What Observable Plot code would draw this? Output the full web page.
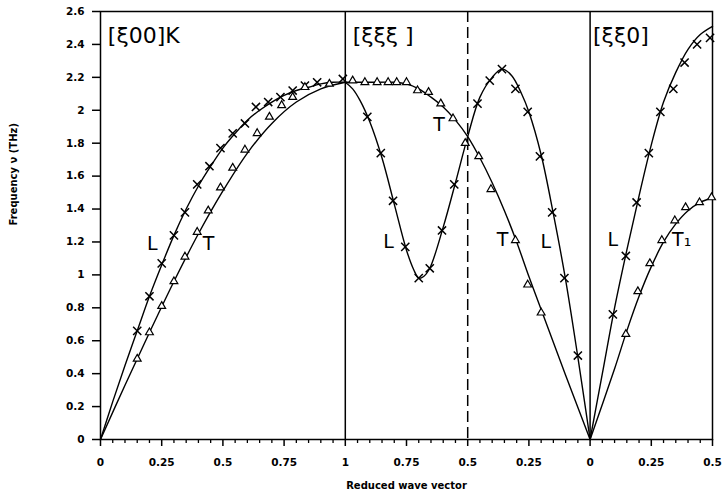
<!DOCTYPE html>
<html><head><meta charset="utf-8">
<script src="https://cdn.jsdelivr.net/npm/d3@7"></script>
<script src="https://cdn.jsdelivr.net/npm/@observablehq/plot@0.6"></script>
<style>body{margin:0;background:#fff}</style>
</head><body><div id="chart"></div>
<script>
// ---- tick labels ----
const xTickLabels = ["0","0.25","0.5","0.75","1","0.75","0.5","0.25","0","0.25","0.5"];
const yTickValues = [0,0.2,0.4,0.6,0.8,1,1.2,1.4,1.6,1.8,2,2.2,2.4,2.6];
const yTickLabels = ["0","0.2","0.4","0.6","0.8","1","1.2","1.4","1.6","1.8","2","2.2","2.4","2.6"];

// ---- [ξ00] (Γ -> H), reduced wave vector ξ, frequency ν (THz) ----
const s1L_points = [[0.15,0.66],[0.2,0.87],[0.25,1.07],[0.3,1.24],[0.345,1.38],[0.395,1.55],[0.445,1.66],[0.49,1.77],[0.54,1.86],[0.59,1.92],[0.635,2.02],[0.685,2.05],[0.735,2.08],[0.785,2.12],[0.835,2.15],[0.885,2.17],[0.99,2.19]];
const s1T_points = [[0.15,0.49],[0.2,0.65],[0.25,0.81],[0.3,0.96],[0.345,1.11],[0.395,1.26],[0.44,1.39],[0.49,1.53],[0.54,1.65],[0.59,1.76],[0.64,1.86],[0.69,1.96],[0.74,2.03],[0.785,2.08],[0.835,2.14],[0.935,2.16]];
const s1L_curve = [[0,0],[0.05,0.23],[0.1,0.45],[0.15,0.66],[0.2,0.87],[0.25,1.06],[0.3,1.24],[0.35,1.40],[0.4,1.54],[0.45,1.66],[0.5,1.77],[0.55,1.86],[0.6,1.94],[0.65,2.00],[0.7,2.05],[0.75,2.09],[0.8,2.12],[0.85,2.14],[0.9,2.16],[0.95,2.17],[1.0,2.17]];
const s1T_curve = [[0,0],[0.1,0.33],[0.2,0.65],[0.3,0.96],[0.4,1.25],[0.5,1.51],[0.6,1.74],[0.7,1.92],[0.8,2.05],[0.9,2.13],[1.0,2.17]];

// ---- [ξξξ] (H -> P -> Γ), ξ runs 1 -> 0 ----
const s2L_points = [[0.91,1.96],[0.855,1.74],[0.805,1.45],[0.755,1.17],[0.70,0.98],[0.655,1.04],[0.605,1.27],[0.555,1.55],[0.46,2.04],[0.41,2.18],[0.36,2.25],[0.305,2.13],[0.255,1.99],[0.205,1.72],[0.155,1.38],[0.105,0.98],[0.05,0.51]];
const s2T_points = [[0.97,2.18],[0.92,2.17],[0.87,2.17],[0.825,2.17],[0.79,2.17],[0.75,2.17],[0.705,2.12],[0.66,2.11],[0.61,2.04],[0.56,1.95],[0.51,1.80],[0.455,1.72],[0.405,1.52],[0.305,1.21],[0.255,0.94],[0.20,0.77]];
const s2L_curve = [[1,2.17],[0.97,2.13],[0.94,2.06],[0.9,1.93],[0.85,1.71],[0.8,1.43],[0.75,1.15],[0.72,1.03],[0.7,0.98],[0.68,0.99],[0.655,1.04],[0.6,1.29],[0.55,1.56],[0.5,1.84],[0.45,2.08],[0.4,2.20],[0.36,2.25],[0.32,2.21],[0.28,2.10],[0.25,1.99],[0.2,1.73],[0.15,1.37],[0.1,0.97],[0.05,0.50],[0,0]];
const s2T_curve = [[1,2.17],[0.9,2.17],[0.8,2.17],[0.75,2.16],[0.7,2.13],[0.65,2.08],[0.6,2.02],[0.55,1.94],[0.5,1.84],[0.45,1.71],[0.4,1.56],[0.35,1.39],[0.3,1.20],[0.25,0.99],[0.2,0.79],[0.1,0.39],[0,0]];

// ---- [ξξ0] (Γ -> N), ξ runs 0 -> 0.5 ----
const s3L_points = [[0.093,0.76],[0.146,1.115],[0.19,1.44],[0.24,1.74],[0.287,1.99],[0.34,2.13],[0.386,2.29],[0.437,2.40],[0.49,2.44]];
const s3T_points = [[0.146,0.64],[0.195,0.90],[0.244,1.07],[0.293,1.21],[0.346,1.33],[0.39,1.41],[0.447,1.44],[0.496,1.47]];
const s3L_curve = [[0,0],[0.05,0.40],[0.1,0.80],[0.15,1.15],[0.2,1.48],[0.25,1.79],[0.3,2.05],[0.35,2.23],[0.4,2.37],[0.45,2.46],[0.5,2.51]];
const s3T_curve = [[0,0],[0.1,0.43],[0.15,0.66],[0.2,0.87],[0.25,1.05],[0.3,1.20],[0.35,1.31],[0.4,1.39],[0.45,1.44],[0.5,1.47]];

// ---- annotations (segment, ξ, ν, text) ----
const panelLabels = [[1,0.03,2.45,"[ξ00]K"],[2,0.97,2.45,"[ξξξ ]"],[3,0.012,2.45,"[ξξ0]"]];
const branchLabels = [[1,0.212,1.19,"L"],[1,0.441,1.19,"T"],[2,0.617,1.91,"T"],[2,0.823,1.20,"L"],[2,0.358,1.21,"T"],[2,0.181,1.20,"L"],[3,0.093,1.21,"L"],[3,0.374,1.21,"T₁"]];

// path coordinate along the plotted x axis
const toT = {1: xi => xi, 2: xi => 2 - xi, 3: xi => 2 + xi};
const rows = (pairs, seg, branch) => pairs.map(([xi, nu]) => ({t: toT[seg](xi), nu, branch}));

const curves = [
  ...rows(s1L_curve,1,"1L"), ...rows(s1T_curve,1,"1T"),
  ...rows(s2L_curve,2,"2L"), ...rows(s2T_curve,2,"2T"),
  ...rows(s3L_curve,3,"3L"), ...rows(s3T_curve,3,"3T")
];
const crosses = [...rows(s1L_points,1,"L"), ...rows(s2L_points,2,"L"), ...rows(s3L_points,3,"L")];
const triangles = [...rows(s1T_points,1,"T"), ...rows(s2T_points,2,"T"), ...rows(s3T_points,3,"T")];
const panels = panelLabels.map(([s,xi,nu,text]) => ({t: toT[s](xi), nu, text}));
const branches = branchLabels.map(([s,xi,nu,text]) => ({t: toT[s](xi), nu, text}));

const majorX = xTickLabels.map((_, i) => i * 0.25);
const xLabelMap = new Map(majorX.map((v, i) => [v, xTickLabels[i]]));
const minorX = d3.range(0, 51).map(i => i * 0.05).filter(v => Math.abs(v / 0.25 - Math.round(v / 0.25)) > 1e-6);
const yLabelMap = new Map(yTickValues.map((v, i) => [v, yTickLabels[i]]));

const plot = Plot.plot({
  width: 724, height: 498,
  marginLeft: 100, marginRight: 12, marginTop: 11, marginBottom: 59,
  x: {domain: [0, 2.5]},
  y: {domain: [0, 2.6]},
  style: {fontFamily: "DejaVu Sans", background: "white", color: "black"},
  marks: [
    Plot.frame({stroke: "black", strokeWidth: 1.5}),
    Plot.ruleX([1, 2], {stroke: "black", strokeWidth: 1.5}),
    Plot.ruleX([1.5], {stroke: "black", strokeWidth: 1.5, strokeDasharray: "11,5"}),
    Plot.axisX({ticks: majorX, tickSize: 7, tickPadding: 12, tickFormat: d => xLabelMap.get(d), label: null, fontWeight: "bold", fontSize: 10.5, letterSpacing: 1, strokeWidth: 1.5}),
    Plot.axisX({ticks: minorX, tickSize: 4, tickFormat: () => "", label: null, strokeWidth: 1.3}),
    Plot.axisY({ticks: yTickValues, tickSize: 8, tickPadding: 8, tickFormat: d => yLabelMap.get(d), label: null, fontWeight: "bold", fontSize: 10.5, letterSpacing: 1, strokeWidth: 1.5}),
    Plot.line(curves, {x: "t", y: "nu", z: "branch", curve: "catmull-rom", stroke: "black", strokeWidth: 1.4}),
    Plot.dot(crosses, {x: "t", y: "nu", symbol: "times", r: 3.8, stroke: "black", strokeWidth: 1.5}),
    Plot.dot(triangles, {x: "t", y: "nu", symbol: "triangle", r: 2.9, fill: "white", stroke: "black", strokeWidth: 1.2}),
    Plot.text(panels, {x: "t", y: "nu", text: "text", textAnchor: "start", fontSize: 22, fontWeight: "normal", fill: "black"}),
    Plot.text(branches, {x: "t", y: "nu", text: "text", fontSize: 19, fontWeight: "normal", fill: "black"}),
    Plot.text(["Frequency ν (THz)"], {frameAnchor: "left", rotate: -90, dx: -87, fontSize: 10, fontWeight: "bold", letterSpacing: 2, fill: "black"}),
    Plot.text(["Reduced wave vector"], {frameAnchor: "bottom", dy: 49, fontSize: 10, fontWeight: "bold", letterSpacing: 1, fill: "black"})
  ]
});
document.getElementById("chart").appendChild(plot);
</script>
</body></html>
